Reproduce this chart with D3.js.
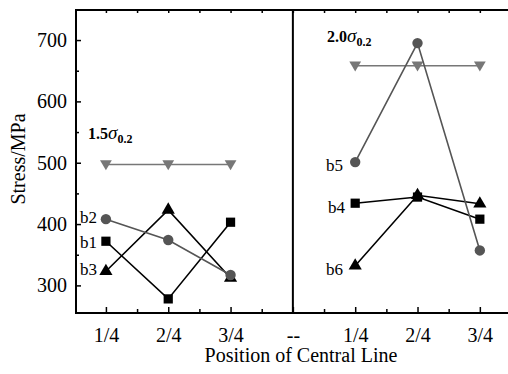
<!DOCTYPE html>
<html>
<head>
<meta charset="utf-8">
<script src="https://cdn.jsdelivr.net/npm/d3@7"></script>
<style>
  body { margin: 0; background: #fff; }
  svg, svg text { font-family: "Liberation Serif", "Times New Roman", serif !important; }
</style>
</head>
<body>
<svg id="svg" width="508" height="374"></svg>
<script>
// tick labels along the x axis (position index 1..7)
const tickLabels = ["1/4", "2/4", "3/4", "--", "1/4", "2/4", "3/4"];
const leftPos = [1, 2, 3];
const rightPos = [5, 6, 7];

// left panel, 1.5 sigma
const b1 = [372, 278, 403];
const b2 = [408, 374, 317];
const b3 = [323, 423, 312];
const s15 = [497, 497, 497];

// right panel, 2.0 sigma
const b4 = [434, 444, 408];
const b5 = [501, 695, 357];
const b6 = [332, 447, 433];
const s20 = [658, 658, 658];

const yTicks = [300, 400, 500, 600, 700];

const svg = d3.select("#svg");
const mLeft = 76, mRight = 511, mTop = 10, mBottom = 313;

const x = d3.scaleLinear().domain([0.52, 7.5]).range([mLeft, mRight]);
const y = d3.scaleLinear().domain([255, 749]).range([mBottom, mTop]);

const black = "#000", grey = "#555", light = "#777";

// axes
const gAxis = svg.append("g");

const yAxis = d3.axisLeft(y).tickValues(yTicks).tickSize(-5).tickPadding(9);
gAxis.append("g").attr("transform", `translate(${mLeft},0)`).call(yAxis);
gAxis.append("g").attr("transform", `translate(${mLeft},0)`)
  .call(d3.axisLeft(y).tickValues([350, 450, 550, 650]).tickSize(-3).tickFormat(""));

const majorX = d3.range(1, 8);
const minorX = d3.range(1.5, 7.5, 1);
gAxis.append("g").attr("transform", `translate(0,${mBottom})`)
  .call(d3.axisBottom(x).tickValues(majorX).tickSize(-6).tickPadding(15)
    .tickFormat((d, i) => tickLabels[i]));
gAxis.append("g").attr("transform", `translate(0,${mBottom})`)
  .call(d3.axisBottom(x).tickValues(minorX).tickSize(-4).tickFormat(""));
gAxis.append("g").attr("transform", `translate(0,${mTop})`)
  .call(d3.axisTop(x).tickValues(majorX.concat(minorX)).tickSize(-3).tickFormat(""));

gAxis.selectAll(".domain").remove();
gAxis.selectAll("g").attr("font-family", null);
gAxis.selectAll("line").attr("stroke", black).attr("stroke-width", 1.5);
gAxis.selectAll("text").attr("font-size", 20).attr("fill", black);

// frame
svg.append("rect").attr("x", mLeft).attr("y", mTop)
  .attr("width", mRight - mLeft).attr("height", mBottom - mTop)
  .attr("fill", "none").attr("stroke", black).attr("stroke-width", 2);

// divider
svg.append("line").attr("x1", x(4)).attr("x2", x(4))
  .attr("y1", mTop).attr("y2", mBottom)
  .attr("stroke", black).attr("stroke-width", 2);

// axis titles
svg.append("text").attr("x", 301).attr("y", 362).attr("text-anchor", "middle")
  .attr("font-size", 20).text("Position of Central Line");
svg.append("text").attr("transform", "translate(25,159) rotate(-90)")
  .attr("text-anchor", "middle").attr("font-size", 20).text("Stress/MPa");

// series
const line = d3.line().x(d => x(d[0])).y(d => y(d[1]));

function drawSeries(pos, vals, color, shape, size) {
  const pts = pos.map((p, i) => [p, vals[i]]);
  svg.append("path").datum(pts).attr("d", line)
    .attr("fill", "none").attr("stroke", color).attr("stroke-width", 1.6);
  const sym = d3.symbol().type(shape === "down" ? d3.symbolTriangle : shape).size(size);
  svg.append("g").selectAll("path").data(pts).join("path")
    .attr("d", sym)
    .attr("transform", d => `translate(${x(d[0])},${y(d[1]) + (shape === "down" ? -1 : 0)})` +
      (shape === "down" ? " rotate(180)" : ""))
    .attr("fill", color);
}

drawSeries(leftPos, s15, light, "down", 60);
drawSeries(leftPos, b3, black, d3.symbolTriangle, 75);
drawSeries(leftPos, b1, black, d3.symbolSquare, 85);
drawSeries(leftPos, b2, grey, d3.symbolCircle, 85);

drawSeries(rightPos, s20, light, "down", 60);
drawSeries(rightPos, b6, black, d3.symbolTriangle, 75);
drawSeries(rightPos, b4, black, d3.symbolSquare, 85);
drawSeries(rightPos, b5, grey, d3.symbolCircle, 85);

// series labels
const labels = [
  ["b2", 80, 223], ["b1", 80, 248], ["b3", 80, 275],
  ["b5", 326, 171], ["b4", 328, 213], ["b6", 326, 275]
];
svg.append("g").selectAll("text").data(labels).join("text")
  .attr("x", d => d[1]).attr("y", d => d[2]).attr("font-size", 17).text(d => d[0]);

// sigma annotations
function sigma(xp, yp, val) {
  const t = svg.append("text").attr("x", xp).attr("y", yp).attr("font-size", 16);
  t.append("tspan").attr("font-weight", "bold").text(val);
  t.append("tspan").attr("font-style", "italic").attr("font-size", 19).text("\u03c3");
  t.append("tspan").attr("font-weight", "bold").attr("font-size", 12).attr("dy", 4).text("0.2");
}
sigma(88, 139, "1.5");
sigma(327, 42, "2.0");
</script>
</body>
</html>
